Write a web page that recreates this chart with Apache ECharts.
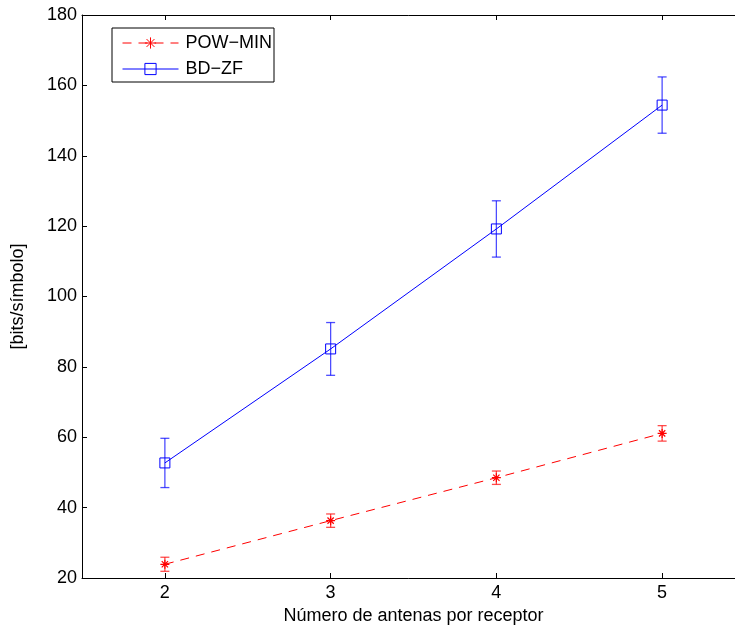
<!DOCTYPE html>
<html>
<head>
<meta charset="utf-8">
<script src="https://cdn.jsdelivr.net/npm/echarts@6/dist/echarts.min.js"></script>
<style>html,body{margin:0;padding:0;background:#fff}#c{width:735px;height:627px}</style>
</head>
<body>
<div id="c"></div>
<script>
const antennas = [2, 3, 4, 5];
const powMin = [23.9, 36.3, 48.5, 61.1];
const powMinErr = [2.0, 1.9, 1.9, 2.2];
const bdZf = [52.7, 85.1, 119.2, 154.4];
const bdZfErr = [7.0, 7.5, 8.0, 8.0];
const yTicks = [20, 40, 60, 80, 100, 120, 140, 160, 180];

const FONT = 'Liberation Sans, Arial, sans-serif';
const FS = 18;
const asterisk = 'path://M5,0L5,10M0,5L10,5M1.5,1.5L8.5,8.5M1.5,8.5L8.5,1.5';
const square = 'path://M0,0L10,0L10,10L0,10Z';

function errData(vals, errs) {
  return antennas.map((x, i) => [x, vals[i] - errs[i], vals[i] + errs[i]]);
}
function errRender(color) {
  return function (params, api) {
    const x = api.value(0);
    const lo = api.coord([x, api.value(1)]);
    const hi = api.coord([x, api.value(2)]);
    const w = 4.5;
    const st = { stroke: color, lineWidth: 1.3, opacity: 0.7 };
    return {
      type: 'group',
      children: [
        { type: 'line', shape: { x1: lo[0], y1: lo[1], x2: hi[0], y2: hi[1] }, style: st },
        { type: 'line', shape: { x1: lo[0] - w, y1: lo[1], x2: lo[0] + w, y2: lo[1] }, style: st },
        { type: 'line', shape: { x1: hi[0] - w, y1: hi[1], x2: hi[0] + w, y2: hi[1] }, style: st }
      ]
    };
  };
}

const chart = echarts.init(document.getElementById('c'));
const xBase = {
  type: 'value', min: 1.5, max: 5.5, splitNumber: 4,
  axisLine: { onZero: false, lineStyle: { color: '#000', width: 1 } },
  axisTick: { inside: true, length: 5, lineStyle: { color: '#000' } },
  splitLine: { show: false }
};
chart.setOption({
  animation: false,
  backgroundColor: '#fff',
  textStyle: { fontFamily: FONT },
  grid: { left: 82, top: 15, width: 663, height: 563, outerBoundsMode: 'none' },
  legend: {
    left: 112, top: 28, orient: 'vertical',
    data: ['POW\u2212MIN', 'BD\u2212ZF'],
    borderColor: '#000', borderWidth: 1, backgroundColor: '#fff', borderRadius: 0,
    padding: [6, 2, 4, 10], itemGap: 8, itemWidth: 56, itemHeight: 14,
    lineStyle: { width: 1 },
    itemStyle: { borderWidth: 1 },
    textStyle: { fontFamily: FONT, fontSize: FS, color: '#000', padding: [0, 0, 0, 2] }
  },
  xAxis: [
    Object.assign({}, xBase, {
      position: 'bottom',
      name: 'Número de antenas por receptor', nameLocation: 'middle', nameGap: 24,
      nameTextStyle: { fontFamily: FONT, fontSize: FS, color: '#000' },
      axisLabel: {
        margin: 6, fontFamily: FONT, fontSize: FS, color: '#000',
        formatter: v => (Number.isInteger(v) && antennas.includes(v)) ? String(v) : ''
      }
    }),
    Object.assign({}, xBase, { position: 'top', axisLabel: { show: false } })
  ],
  yAxis: [{
    type: 'value', min: yTicks[0], max: yTicks[yTicks.length - 1], interval: 20,
    name: '[bits/símbolo]', nameLocation: 'middle', nameGap: 55, nameRotate: 90,
    nameTextStyle: { fontFamily: FONT, fontSize: FS, color: '#000' },
    axisLine: { show: true, lineStyle: { color: '#000', width: 1 } },
    axisTick: { show: true, inside: true, length: 5, lineStyle: { color: '#000' } },
    axisLabel: { margin: 5, fontFamily: FONT, fontSize: FS, color: '#000' },
    splitLine: { show: false }
  }],
  series: [
    {
      name: 'POW\u2212MIN', type: 'line',
      data: antennas.map((x, i) => [x, powMin[i]]),
      symbol: asterisk, symbolSize: 9, showAllSymbol: true,
      itemStyle: { color: '#ff0000', borderColor: '#ff0000', borderWidth: 1.2 },
      lineStyle: { color: '#ff0000', width: 1, type: [9, 7] },
      z: 3
    },
    {
      name: 'BD\u2212ZF', type: 'line',
      data: antennas.map((x, i) => [x, bdZf[i]]),
      symbol: square, symbolSize: 10, showAllSymbol: true,
      itemStyle: { color: 'rgba(0,0,255,0)', borderColor: '#0000ff', borderWidth: 1 },
      lineStyle: { color: '#0000ff', width: 1 },
      z: 3
    },
    {
      type: 'custom', renderItem: errRender('#ff0000'),
      data: errData(powMin, powMinErr), encode: { x: 0, y: [1, 2] }, z: 2, silent: true
    },
    {
      type: 'custom', renderItem: errRender('#0000ff'),
      data: errData(bdZf, bdZfErr), encode: { x: 0, y: [1, 2] }, z: 2, silent: true
    }
  ]
});
</script>
</body>
</html>
